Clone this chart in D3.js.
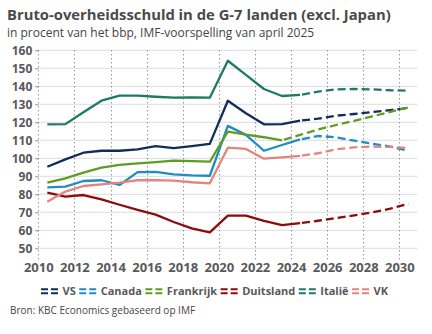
<!DOCTYPE html>
<html>
<head>
<meta charset="utf-8">
<script src="https://cdn.jsdelivr.net/npm/d3@7"></script>
<style>
  body { margin: 0; background: #fff; }
  svg { display: block; font-family: "Open Sans", "Noto Sans", sans-serif; }
</style>
</head>
<body>
<script>
// Width and height
var w = 432;
var h = 334;

// years on the x axis (one point per year)
var years = [2010, 2011, 2012, 2013, 2014, 2015, 2016, 2017, 2018, 2019, 2020,
             2021, 2022, 2023, 2024, 2025, 2026, 2027, 2028, 2029, 2030];

var countries = ["VS", "Canada", "Frankrijk", "Duitsland", "Italië", "VK"];
var colors = ["#112d5a", "#1f8cc4", "#5f9c22", "#8c0b0b", "#1d7a64", "#e3857c"];
// last year with realised figures, after that IMF forecast (dashed)
var lastActual = [2024, 2024, 2023, 2024, 2024, 2024];

var vs        = [95.3, 99.4, 103.1, 104.2, 104.2, 105.0, 106.8, 105.7, 106.8, 108.0, 132.0, 125.0, 118.9, 119.0, 120.9, 122.0, 123.7, 124.6, 125.7, 126.8, 127.9];
var canada    = [83.9, 84.3, 87.4, 87.8, 85.2, 92.3, 92.4, 91.1, 90.5, 90.3, 118.0, 113.0, 104.2, 107.4, 110.5, 112.4, 111.7, 109.8, 108.1, 106.5, 104.2];
var frankrijk = [86.5, 88.9, 92.0, 94.8, 96.3, 97.2, 97.9, 98.7, 98.4, 98.1, 114.8, 113.1, 111.7, 110.0, 113.0, 116.0, 118.5, 120.8, 123.3, 125.8, 128.3];
var duitsland = [80.9, 78.7, 79.6, 77.2, 74.2, 71.3, 68.7, 64.6, 61.1, 58.9, 68.1, 68.1, 65.2, 62.9, 64.0, 65.3, 66.8, 68.3, 70.0, 72.0, 74.8];
var italie    = [118.9, 119.0, 125.6, 132.0, 134.8, 134.8, 134.2, 133.7, 133.9, 133.7, 154.2, 146.3, 138.5, 134.6, 135.2, 137.0, 138.3, 138.5, 138.3, 137.8, 137.6];
var vk        = [75.9, 81.5, 84.6, 85.5, 86.5, 87.8, 87.9, 87.6, 86.7, 86.1, 105.9, 105.2, 99.8, 100.5, 101.3, 102.8, 105.0, 106.1, 106.5, 106.3, 105.7];

var seriesValues = [vs, canada, frankrijk, duitsland, italie, vk];

var yTicks = [50, 60, 70, 80, 90, 100, 110, 120, 130, 140, 150, 160];
var xTicks = [2010, 2012, 2014, 2016, 2018, 2020, 2022, 2024, 2026, 2028, 2030];

var x = d3.scaleLinear().domain([2010, 2031]).range([38.3, 417.4]);
var y = d3.scaleLinear().domain([44, 160]).range([259.1, 50.3]);

var svg = d3.select("body")
    .append("svg")
    .attr("width", w)
    .attr("height", h);

// title + subtitle
svg.append("text")
    .attr("x", 7)
    .attr("y", 19.5)
    .attr("font-size", "14.8px")
    .attr("font-weight", "bold")
    .attr("fill", "#4a4a4a")
    .text("Bruto-overheidsschuld in de G-7 landen (excl. Japan)");

svg.append("text")
    .attr("x", 7)
    .attr("y", 37)
    .attr("font-size", "12px")
    .attr("fill", "#444")
    .text("in procent van het bbp, IMF-voorspelling van april 2025");

// horizontal grid
svg.append("g")
    .attr("class", "grid")
    .selectAll("line")
    .data(yTicks)
    .enter()
    .append("line")
    .attr("x1", x(2010))
    .attr("x2", x(2031))
    .attr("y1", function(d){ return y(d); })
    .attr("y2", function(d){ return y(d); })
    .attr("stroke", "#e3e3e3")
    .attr("stroke-width", 1.2);

// vertical dotted lines at the even years
svg.append("g")
    .selectAll("line")
    .data(xTicks)
    .enter()
    .append("line")
    .attr("x1", function(d){ return Math.round(x(d)) + 0.5; })
    .attr("x2", function(d){ return Math.round(x(d)) + 0.5; })
    .attr("y1", y(160))
    .attr("y2", 261)
    .attr("stroke", "#666")
    .attr("stroke-width", 1)
    .attr("stroke-dasharray", "1,3");

// y axis labels with small ticks
var yAxis = d3.axisLeft(y).tickValues(yTicks).tickSize(3).tickPadding(3);
var gy = svg.append("g")
    .attr("transform", "translate(" + x(2010) + ",0)")
    .call(yAxis);
gy.select(".domain").remove();
gy.selectAll(".tick line").attr("stroke", "#888");
gy.selectAll("text")
    .attr("font-family", "Open Sans, Noto Sans, sans-serif")
    .attr("font-size", "12px")
    .attr("font-weight", "bold")
    .attr("fill", "#595959");

// x axis labels
var xAxis = d3.axisBottom(x).tickValues(xTicks).tickFormat(d3.format("d")).tickSize(0).tickPadding(0);
var gx = svg.append("g")
    .attr("transform", "translate(0,263)")
    .call(xAxis);
gx.select(".domain").remove();
gx.selectAll("text")
    .attr("font-family", "Open Sans, Noto Sans, sans-serif")
    .attr("font-size", "13px")
    .attr("font-weight", "bold")
    .attr("fill", "#595959");

var line = d3.line()
    .x(function(d){ return x(d.year + 0.5); })
    .y(function(d){ return y(d.value); });

countries.forEach(function(name, i){
    var pts = years.map(function(yr, j){ return { year: yr, value: seriesValues[i][j] }; });
    var actual = pts.filter(function(d){ return d.year <= lastActual[i]; });
    var forecast = pts.filter(function(d){ return d.year >= lastActual[i]; });

    svg.append("path")
        .datum(actual)
        .attr("fill", "none")
        .attr("stroke", colors[i])
        .attr("stroke-width", 2.3)
        .attr("stroke-linejoin", "round")
        .attr("d", line);

    svg.append("path")
        .datum(forecast)
        .attr("fill", "none")
        .attr("stroke", colors[i])
        .attr("stroke-width", 2.3)
        .attr("stroke-dasharray", "8,4")
        .attr("stroke-dashoffset", -2)
        .attr("d", line);
});

// legend
var legend = svg.append("g");
var lx = 41;
countries.forEach(function(name, i){
    [289.3, 293.3].forEach(function(ly){
        legend.append("line")
            .attr("x1", lx)
            .attr("x2", lx + 17)
            .attr("y1", ly)
            .attr("y2", ly)
            .attr("stroke", colors[i])
            .attr("stroke-width", 2)
            .attr("stroke-dasharray", "7,3");
    });
    var t = legend.append("text")
        .attr("x", lx + 21.5)
        .attr("y", 294.5)
        .attr("font-size", "11px")
        .attr("font-weight", "bold")
        .attr("fill", "#595959")
        .text(name);
    lx += 21.5 + t.node().getComputedTextLength() + 3.5;
});

// source
svg.append("text")
    .attr("x", 10)
    .attr("y", 314)
    .attr("font-size", "10px")
    .attr("fill", "#444")
    .text("Bron: KBC Economics gebaseerd op IMF");
</script>
</body>
</html>
